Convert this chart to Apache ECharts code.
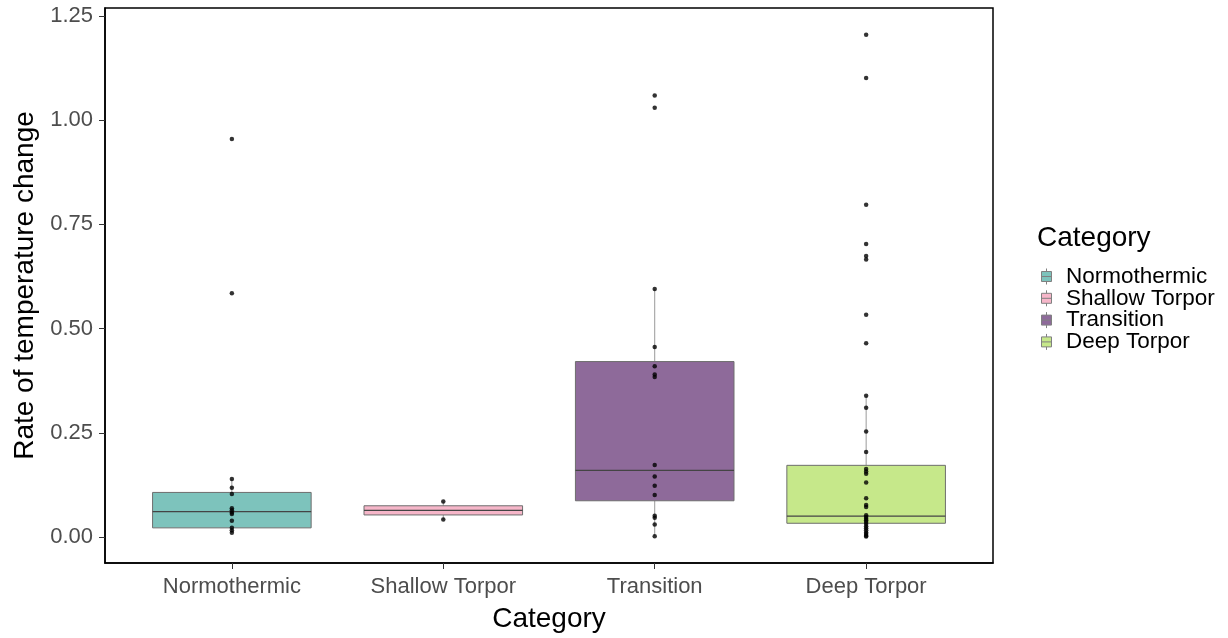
<!DOCTYPE html>
<html>
<head>
<meta charset="utf-8">
<script src="https://cdn.jsdelivr.net/npm/echarts@6/dist/echarts.min.js"></script>
<style>
  html, body { margin: 0; padding: 0; background: #fff; }
  #chart { width: 1228px; height: 638px; }
</style>
</head>
<body>
<div id="chart"></div>
<script>
// Groups along the x axis
const categories = ['Normothermic', 'Shallow Torpor', 'Transition', 'Deep Torpor'];
const fillColors = ['#7DC3BC', '#F6B6C9', '#8E6A9A', '#C6E88A'];

// Box summaries: [lower whisker, Q1, median, Q3, upper whisker]
const boxNormothermic = [0.010, 0.022, 0.061, 0.107, 0.139];
const boxShallow      = [0.042, 0.053, 0.064, 0.075, 0.085];
const boxTransition   = [0.002, 0.087, 0.160, 0.421, 0.595];
const boxDeep         = [0.001, 0.033, 0.050, 0.172, 0.339];

// Individual observations per group
const ptsNormothermic = [0.955, 0.585, 0.139, 0.118, 0.103, 0.069, 0.064, 0.059, 0.055, 0.039, 0.022, 0.016, 0.010];
const ptsShallow      = [0.085, 0.042];
const ptsTransition   = [1.059, 1.030, 0.595, 0.456, 0.410, 0.390, 0.384, 0.173, 0.145, 0.123, 0.101, 0.051, 0.046, 0.030, 0.002];
const ptsDeep         = [1.205, 1.101, 0.797, 0.703, 0.674, 0.666, 0.533, 0.465, 0.339, 0.310, 0.253, 0.204, 0.163, 0.157, 0.152, 0.131,
                         0.093, 0.077, 0.072, 0.052, 0.048, 0.044, 0.040, 0.036, 0.031, 0.026, 0.021, 0.016, 0.011, 0.007, 0.003, 0.001];

// Y axis tick labels
const yTicks = [0, 0.25, 0.5, 0.75, 1.0, 1.25];

const boxes = [boxNormothermic, boxShallow, boxTransition, boxDeep];
const points = [ptsNormothermic, ptsShallow, ptsTransition, ptsDeep];

const BOX_HALF = 0.375;
const FONT = '"Liberation Sans", Arial, sans-serif';

function renderBox(params, api) {
  const x = api.value(0);
  const lo = api.value(1), q1 = api.value(2), med = api.value(3), q3 = api.value(4), hi = api.value(5);
  const pL = api.coord([x - BOX_HALF, q3]);
  const pR = api.coord([x + BOX_HALF, q1]);
  const c = api.coord([x, med]);
  const pLo = api.coord([x, lo]);
  const pHi = api.coord([x, hi]);
  const pQ1 = api.coord([x, q1]);
  const pQ3 = api.coord([x, q3]);
  const fill = api.visual('color');
  return {
    type: 'group',
    children: [
      { type: 'line', shape: { x1: pHi[0], y1: pHi[1], x2: pQ3[0], y2: pQ3[1] },
        style: { stroke: '#9a9a9a', lineWidth: 1 } },
      { type: 'line', shape: { x1: pQ1[0], y1: pQ1[1], x2: pLo[0], y2: pLo[1] },
        style: { stroke: '#9a9a9a', lineWidth: 1 } },
      { type: 'rect', shape: { x: pL[0], y: pL[1], width: pR[0] - pL[0], height: pR[1] - pL[1] },
        style: { fill: fill, stroke: '#6e6e6e', lineWidth: 1 } },
      { type: 'line', shape: { x1: pL[0], y1: c[1], x2: pR[0], y2: c[1] },
        style: { stroke: '#444444', lineWidth: 1.2 } }
    ]
  };
}

const series = [];
categories.forEach((name, i) => {
  series.push({
    name: name,
    type: 'custom',
    renderItem: renderBox,
    color: fillColors[i],
    encode: { x: 0, y: [1, 2, 3, 4, 5] },
    data: [[i + 1].concat(boxes[i])],
    z: 2
  });
});
categories.forEach((name, i) => {
  series.push({
    name: name + ' points',
    type: 'scatter',
    symbolSize: 4.5,
    itemStyle: { color: '#000' },
    data: points[i].map(v => [i + 1, v]),
    z: 5,
    silent: true
  });
});

const chart = echarts.init(document.getElementById('chart'), null, { renderer: 'canvas' });
chart.setOption({
  animation: false,
  backgroundColor: '#fff',
  textStyle: { fontFamily: FONT },
  grid: {
    left: 105, right: 235, top: 8, bottom: 74,
    show: true, borderColor: '#000', borderWidth: 1.5, backgroundColor: 'transparent'
  },
  title: {
    text: 'Category', left: 1032, top: 219,
    textStyle: { fontFamily: FONT, fontSize: 28, fontWeight: 'normal', color: '#000' }
  },
  legend: {
    data: categories,
    orient: 'vertical',
    left: 1036, top: 260,
    itemWidth: 11, itemHeight: 16, itemGap: -1.2,
    icon: 'path://M5,0V3M0,3H10V13H0ZM0,8H10M5,13V16',
    itemStyle: { borderColor: '#808080', borderWidth: 1 },
    textStyle: { fontFamily: FONT, fontSize: 22.5, color: '#000', lineHeight: 20, padding: [0, 0, 0, 9] },
    selectedMode: false
  },
  xAxis: {
    type: 'value', min: 0.4, max: 4.6,
    name: 'Category', nameLocation: 'middle', nameGap: 42,
    nameTextStyle: { fontFamily: FONT, fontSize: 28, color: '#000' },
    axisLine: { show: true, onZero: false, lineStyle: { color: '#000', width: 1.5 } },
    splitLine: { show: false },
    axisTick: { show: true, length: 6, customValues: [1, 2, 3, 4], lineStyle: { color: '#333' } },
    axisLabel: {
      customValues: [1, 2, 3, 4], margin: 13,
      fontFamily: FONT, fontSize: 22, color: '#4d4d4d',
      formatter: v => categories[Math.round(v) - 1]
    }
  },
  yAxis: {
    type: 'value', min: -0.0623, max: 1.2692,
    name: 'Rate of temperature change', nameLocation: 'middle', nameGap: 64, nameRotate: 90,
    nameTextStyle: { fontFamily: FONT, fontSize: 28, color: '#000' },
    axisLine: { show: true, onZero: false, lineStyle: { color: '#000', width: 1.5 } },
    splitLine: { show: false },
    axisTick: { show: true, length: 6, customValues: yTicks, lineStyle: { color: '#333' } },
    axisLabel: {
      customValues: yTicks, margin: 12,
      fontFamily: FONT, fontSize: 22, color: '#4d4d4d',
      formatter: v => v.toFixed(2)
    }
  },
  series: series
});
</script>
</body>
</html>
